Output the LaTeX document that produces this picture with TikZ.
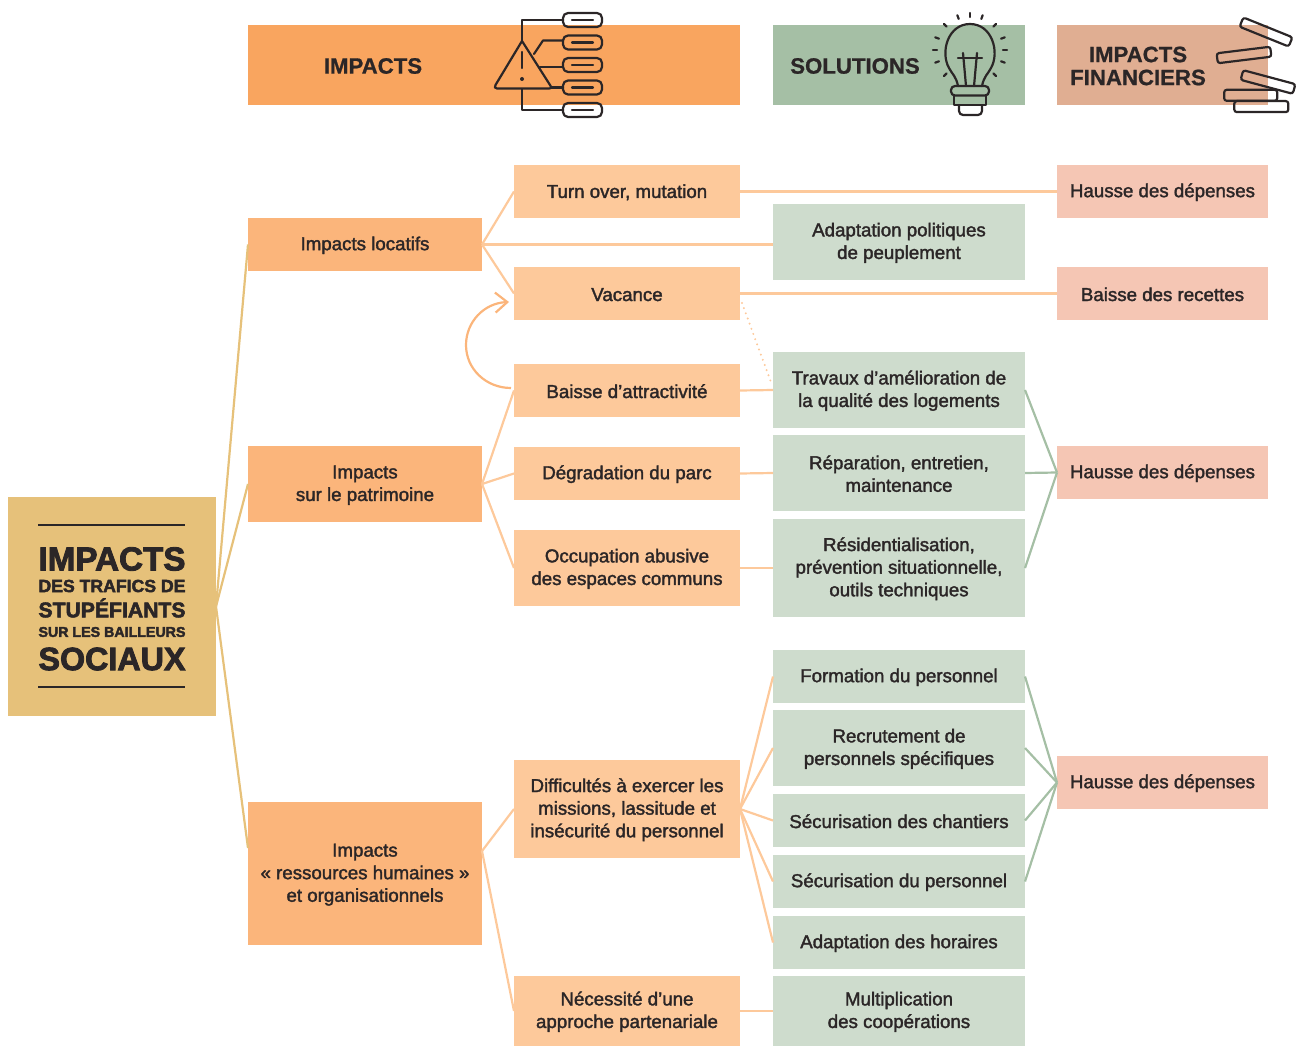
\documentclass[tikz,border=0pt]{standalone}
\usepackage{fontspec}
\setmainfont{Liberation Sans}[FakeBold=1.8]
\newfontfamily\heavyfont{Liberation Sans Bold}[FakeBold=2.6]
\newfontfamily\headfont{Liberation Sans Bold}[FakeBold=0.8]
\usetikzlibrary{arrows.meta,calc}
\definecolor{ink}{HTML}{2B2627}
\definecolor{hOrange}{HTML}{F9A55F}
\definecolor{hGreen}{HTML}{A5BFA5}
\definecolor{hBrown}{HTML}{E0AE92}
\definecolor{cTan}{HTML}{E6C17A}
\definecolor{lvA}{HTML}{FBB57B}
\definecolor{lvB}{HTML}{FDC99B}
\definecolor{sol}{HTML}{CEDCCD}
\definecolor{fin}{HTML}{F5C6B4}
\tikzset{
  every node/.style={inner sep=0pt,outer sep=0pt,text=ink,font=\fontsize{18.7}{22.6}\selectfont,align=center},
  head1/.style={fill=hOrange}, head2/.style={fill=hGreen}, head3/.style={fill=hBrown},
  centre/.style={fill=cTan},
  levela/.style={fill=lvA}, levelb/.style={fill=lvB}, solbox/.style={fill=sol}, finbox/.style={fill=fin},
  headtext/.style={font=\headfont\fontsize{22.2}{23}\selectfont},
  lnTan/.style={draw=cTan,line width=2.2pt},
  lnPeach/.style={draw=lvB,line width=2.2pt},
  lnGreen/.style={draw=hGreen,line width=2.2pt},
  icon/.style={draw=ink,line width=2.2pt,line cap=round,line join=round},
  brick/.style={draw=ink,line width=2.2pt,rounded corners=2.5pt,minimum height=10pt},
  pill/.style={icon,rounded corners=5pt},
}
\newcommand{\bx}[7]{\node[#2,minimum width={(#5-#3)*1pt},minimum height={(#6-#4)*1pt}] (#1) at ({(#3+#5)/2},{(#4+#6)/2}) {\rule{0pt}{15.2pt}#7};}
\newcommand{\ebx}[6]{\node[#2,minimum width={(#5-#3)*1pt},minimum height={(#6-#4)*1pt}] (#1) at ({(#3+#5)/2},{(#4+#6)/2}) {};}
\newcommand{\cl}[3]{\node (#1) at (112,#2) {\resizebox{147pt}{!}{\heavyfont #3}};}
\begin{document}
\begin{tikzpicture}[x=1pt,y=-1pt]
\useasboundingbox (0,0) rectangle (1303,1046);
% headers
\ebx{hImp}{head1}{248}{25}{740}{105}
\ebx{hSol}{head2}{773}{25}{1025}{105}
\ebx{hFin}{head3}{1057}{25}{1268}{105}
\node[headtext] (tImp) at (373,66) {IMPACTS};
\node[headtext] (tSol) at (855,66) {SOLUTIONS};
\node[headtext] (tFin) at (1138,66) {IMPACTS\hspace{10pt}\\FINANCIERS};
% centre
\ebx{central}{centre}{8}{497}{216}{716}
\draw[ink,line width=1.8pt] (38,525) -- (185,525);
\draw[ink,line width=1.8pt] (38,687) -- (185,687);
\cl{c1}{559}{IMPACTS}
\cl{c2}{586}{DES TRAFICS DE}
\cl{c3}{608}{STUPÉFIANTS}
\cl{c4}{632}{SUR LES BAILLEURS}
\cl{c5}{659}{SOCIAUX}
% level 2
\bx{loc}{levela}{248}{218}{482}{271}{Impacts locatifs}
\bx{pat}{levela}{248}{446}{482}{522}{Impacts\\sur le patrimoine}
\bx{rh}{levela}{248}{802}{482}{945}{Impacts\\« ressources humaines »\\et organisationnels}
% level 3
\bx{turn}{levelb}{514}{165}{740}{218}{Turn over, mutation}
\bx{vac}{levelb}{514}{267}{740}{320}{Vacance}
\bx{bai}{levelb}{514}{364}{740}{417}{Baisse d’attractivité}
\bx{deg}{levelb}{514}{447}{740}{500}{Dégradation du parc}
\bx{occ}{levelb}{514}{530}{740}{606}{Occupation abusive\\des espaces communs}
\bx{dif}{levelb}{514}{760}{740}{858}{Difficultés à exercer les\\missions, lassitude et\\insécurité du personnel}
\bx{nec}{levelb}{514}{976}{740}{1046}{Nécessité d’une\\approche partenariale}
% solutions
\bx{sAda}{solbox}{773}{204}{1025}{280}{Adaptation politiques\\de peuplement}
\bx{sTra}{solbox}{773}{352}{1025}{428}{Travaux d’amélioration de\\la qualité des logements}
\bx{sRep}{solbox}{773}{435}{1025}{511}{Réparation, entretien,\\maintenance}
\bx{sRes}{solbox}{773}{519}{1025}{617}{Résidentialisation,\\prévention situationnelle,\\outils techniques}
\bx{sFor}{solbox}{773}{650}{1025}{703}{Formation du personnel}
\bx{sRec}{solbox}{773}{710}{1025}{786}{Recrutement de\\personnels spécifiques}
\bx{sCha}{solbox}{773}{794}{1025}{847}{Sécurisation des chantiers}
\bx{sPer}{solbox}{773}{855}{1025}{908}{Sécurisation du personnel}
\bx{sHor}{solbox}{773}{916}{1025}{969}{Adaptation des horaires}
\bx{sMul}{solbox}{773}{976}{1025}{1046}{Multiplication\\des coopérations}
% financial
\bx{f1}{finbox}{1057}{165}{1268}{218}{Hausse des dépenses}
\bx{f2}{finbox}{1057}{267}{1268}{320}{Baisse des recettes}
\bx{f3}{finbox}{1057}{446}{1268}{499}{Hausse des dépenses}
\bx{f4}{finbox}{1057}{756}{1268}{809}{Hausse des dépenses}
% free connector ends
\coordinate (rhIn) at (248,848);
\coordinate (rhOut) at (482,851);
\coordinate (dotA) at (742,303);
\coordinate (dotB) at (772,385);
\coordinate (loopA) at (511,388);
\coordinate (loopM) at (466,345);
\coordinate (loopB) at (509,302);
% connectors
\draw[lnTan] (central.east) -- (loc.west);
\draw[lnTan] (central.east) -- (pat.west);
\draw[lnTan] (central.east) -- (rhIn);
\foreach \t in {turn,vac} \draw[lnPeach] (loc.east) -- (\t.west);
\draw[lnPeach] (loc.east) -- (loc.east -| sAda.west);
\foreach \t in {bai,deg,occ} \draw[lnPeach] (pat.east) -- (\t.west);
\foreach \t in {dif,nec} \draw[lnPeach] (rhOut) -- (\t.west);
\draw[lnPeach] (turn.east) -- (f1.west);
\draw[lnPeach] (vac.east) -- (f2.west);
\draw[lnPeach] (bai.east) -- (sTra.west);
\draw[lnPeach] (deg.east) -- (sRep.west);
\draw[lnPeach] (occ.east) -- (sRes.west);
\draw[lnPeach] (nec.east) -- (sMul.west);
\foreach \t in {sFor,sRec,sCha,sPer,sHor} \draw[lnPeach] (dif.east) -- (\t.west);
\foreach \t in {sTra,sRep,sRes} \draw[lnGreen] (\t.east) -- (f3.west);
\foreach \t in {sFor,sRec,sCha,sPer} \draw[lnGreen] (\t.east) -- (f4.west);
\draw[draw=lvB,line width=2.2pt,line cap=round,dash pattern=on 0pt off 5.5pt] (dotA) -- (dotB);
\draw[draw=lvA,line width=2.2pt,-{Straight Barb[length=12pt,width=20pt,line width=2.2pt]}]
  (loopA) .. controls (486,388) and (466,369) .. (loopM) .. controls (466,322) and (484,303) .. (loopB);
% warning icon
\draw[icon] (522,41) -- (550,85) .. controls (552,88) and (551,88.5) .. (548,88.5) -- (497,88.5) .. controls (495,88.5) and (494,87) .. (495.5,85) -- cycle;
\draw[icon] (522,52) -- (522,68);
\fill[ink] (522,79) circle (2);
\draw[icon] (522,41) -- (522,20) -- (563,20);
\draw[icon] (534,54) -- (543,40.5) -- (563,40.5);
\draw[icon] (540,67) -- (563,67);
\draw[icon] (551,87.5) -- (563,87.5);
\draw[icon] (522,89) -- (522,110) -- (563,110);
\foreach \y in {20,42.5,65,87.5,110} {
  \draw[pill] (563,\y-7) rectangle (602,\y+7);
  \draw[icon] (572,\y) -- (593,\y);
}
% bulb icon
\draw[icon] (958,86) .. controls (956,76) and (952,74) .. (949,68) .. controls (940,52) and (948,24) .. (970,24)
  .. controls (992,24) and (1000,52) .. (991,68) .. controls (988,74) and (984,76) .. (982,86);
\draw[icon,rounded corners=4pt] (951,86) rectangle (989,95.5);
\draw[icon] (954,95.5) -- (954,105) -- (986,105) -- (986,95.5);
\draw[icon,rounded corners=4pt] (959,105) -- (959,115) -- (982,115) -- (982,105);
\draw[icon] (963,53) -- (966,86);
\draw[icon] (977,53) -- (974,86);
\draw[icon] (958,58) -- (982,58);
\foreach \a in {0,20,45,70,90,110,135,160,180,200,225,-20,-45} {
  \draw[icon] ($(970,50)+(\a:33 and -33)$) -- ($(970,50)+(\a:37 and -37)$);
}
% bricks icon
\node[brick,minimum width=53pt,rotate=-22] (b1) at (1266,32) {};
\node[brick,minimum width=54pt,rotate=7] (b2) at (1244,55) {};
\node[brick,minimum width=54pt,rotate=-15] (b3) at (1268,82) {};
\node[brick,minimum width=53pt,minimum height=11pt] (b4) at (1250.7,95.3) {};
\node[brick,minimum width=54pt,minimum height=11pt] (b5) at (1261.3,106.6) {};
\end{tikzpicture}
\end{document}
